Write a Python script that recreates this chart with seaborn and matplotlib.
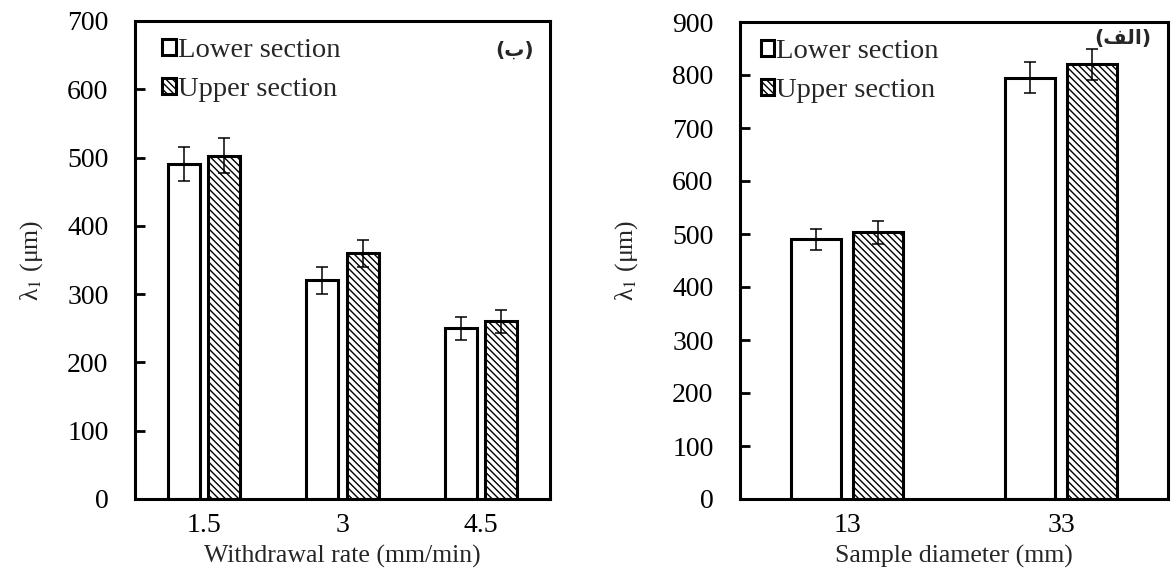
import matplotlib
matplotlib.use("Agg")
import matplotlib.pyplot as plt
import seaborn as sns
import pandas as pd
from matplotlib.patches import Patch

# ---- data ----
rates = ["1.5", "3", "4.5"]
lower_rate = [490, 320, 250]
upper_rate = [503, 360, 260]
lower_rate_err = [25, 20, 17]
upper_rate_err = [25, 20, 17]

diams = ["13", "33"]
lower_diam = [490, 795]
upper_diam = [503, 820]
lower_diam_err = [20, 29]
upper_diam_err = [21, 30]

series = ["Lower section", "Upper section"]

sns.set_style("white")
plt.rcParams["font.family"] = ["Liberation Serif", "DejaVu Serif"]
plt.rcParams["mathtext.fontset"] = "stix"
plt.rcParams["hatch.linewidth"] = 1.0

HATCH = "\\\\\\\\\\"

fig = plt.figure(figsize=(11.71, 5.84), dpi=100)
ax1 = fig.add_axes([135/1171, 1-499/584, (550-135)/1171, (499-21)/584])
ax2 = fig.add_axes([740/1171, 1-499/584, (1168-740)/1171, (499-22)/584])


def draw(ax, cats, low, up, lerr, uerr, ymax, xlabel, tag, tagpos, tagsize,
         ylabelpad, legx):
    df = pd.DataFrame({
        "cat": cats + cats,
        "val": low + up,
        "series": [series[0]] * len(cats) + [series[1]] * len(cats),
    })
    sns.barplot(data=df, x="cat", y="val", hue="series", order=cats,
                hue_order=series, palette=["white", "white"],
                edgecolor="black", linewidth=2.2, width=0.58, gap=0.2,
                errorbar=None, ax=ax, legend=False)
    for bar in ax.containers[1]:
        bar.set_hatch(HATCH)
    for cont, errs in zip(ax.containers, [lerr, uerr]):
        xs = [p.get_x() + p.get_width() / 2 for p in cont]
        ys = [p.get_height() for p in cont]
        ax.errorbar(xs, ys, yerr=errs, fmt="none", ecolor="black",
                    elinewidth=1.1, capsize=4.5, capthick=1.1, zorder=5)
    ax.set_xlim(-0.5, len(cats) - 0.5)
    ax.set_ylim(0, ymax)
    ax.set_yticks(range(0, ymax + 1, 100))
    ax.set_xlabel(xlabel, fontsize=18.5, labelpad=5)
    ax.set_ylabel("λ$_1$ (μm)", fontsize=18.5, labelpad=ylabelpad)
    ax.tick_params(axis="y", labelsize=20, length=7, width=2,
                   direction="in", left=True, pad=19, colors="black")
    ax.tick_params(axis="x", labelsize=20, length=0, pad=10, colors="black")
    for s in ax.spines.values():
        s.set_visible(True)
        s.set_color("black")
        s.set_linewidth(2.2)
    handles = [Patch(facecolor="white", edgecolor="black", linewidth=2.2),
               Patch(facecolor="white", edgecolor="black", linewidth=2.2,
                     hatch=HATCH)]
    ax.legend(handles, series, loc="upper left", bbox_to_anchor=(legx, 1.0),
              frameon=False,
              fontsize=20.5, handlelength=0.48, handleheight=0.48,
              handletextpad=0.08, labelspacing=0.5,
              borderaxespad=0.2, borderpad=0.4)
    ax.text(tagpos[0], tagpos[1], tag, transform=ax.transAxes,
            fontsize=tagsize, fontweight="bold", family="DejaVu Sans",
            ha="center", va="center")


# Arabic labels given in visual (presentation-form) order
tag_b = "(\uFE8F)"
tag_alef = "(\uFED2\uFEDF\uFE8D)"

draw(ax1, rates, lower_rate, upper_rate, lower_rate_err, upper_rate_err,
     700, "Withdrawal rate (mm/min)", tag_b, (0.915, 0.94), 14.5, 16, 0.025)
draw(ax2, diams, lower_diam, upper_diam, lower_diam_err, upper_diam_err,
     900, "Sample diameter (mm)", tag_alef, (0.895, 0.966), 14.5, 23, 0.008)

fig.savefig("out.png", dpi=100)
